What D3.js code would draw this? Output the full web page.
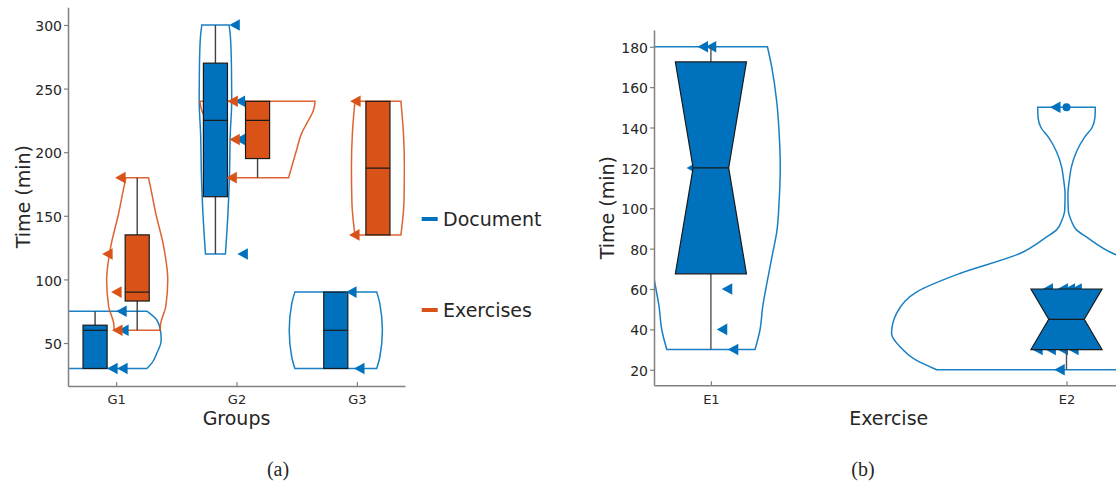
<!DOCTYPE html>
<html>
<head>
<meta charset="utf-8">
<script src="https://cdn.jsdelivr.net/npm/d3@7"></script>
<style>
  body { margin: 0; background: #fff; }
  text { font-family: "DejaVu Sans", sans-serif; fill: #262626; }
</style>
</head>
<body>
<svg id="chart" width="1116" height="485"></svg>
<script>
// ---- panel (a): time per group ----
const groupNames = ["G1", "G2", "G3"];
// [lower whisker, q1, median, q3, upper whisker]
const documentStats = [[30, 30, 60, 64, 75], [120, 165, 225, 270, 300], [30, 30, 60, 90, 90]];
const exercisesStats = [[60, 83, 90, 135, 180], [180, 195, 225, 240, 240], [135, 135, 187.5, 240, 240]];
// raw observations: [minutes, jitter]
const documentPoints = [
    [[75, 0.046], [60, 0.062], [30, -0.029], [30, 0.054]],
    [[300, -0.014], [240, 0.03], [210, 0.03], [120, 0.053]],
    [[90, -0.044], [30, 0.022]]
];
const exercisesPoints = [
    [[180, 0.037], [120, -0.071], [90, 0.004], [60, 0.012]],
    [[240, -0.03], [210, -0.014], [180, -0.039]],
    [[240, -0.01], [135, -0.019]]
];
// kernel density profiles: [minutes, half width]
const documentViolins = [
    [[30, 0.43], [34, 0.47], [42, 0.513], [52, 0.549], [58, 0.546], [68, 0.513], [75, 0.43]],
    [[120, 0.083], [152, 0.104], [180, 0.116], [214, 0.123], [240, 0.135], [267, 0.133], [290, 0.125], [300, 0.113]],
    [[30, 0.34], [39, 0.366], [60, 0.387], [81, 0.366], [90, 0.34]]
];
const exercisesViolins = [
    [[60, 0.191], [65.5, 0.195], [78.5, 0.237], [99.5, 0.254], [125.7, 0.22], [152, 0.154], [170, 0.116], [180, 0.094]],
    [[180, 0.258], [188.6, 0.284], [201.7, 0.324], [215, 0.367], [222.7, 0.409], [233, 0.464], [238, 0.476], [240, 0.478]],
    [[135, 0.191], [160, 0.216], [188, 0.22], [215, 0.212], [240, 0.191]]
];
const timeTicksA = [50, 100, 150, 200, 250, 300];

// ---- panel (b): time per exercise ----
const exerciseNames = ["E1", "E2"];
const exerciseStats = [[30, 67.5, 120, 172.5, 180], [20, 30, 45, 60, 60]];
const exerciseOutliers = [[], [150]];
const exercisePoints = [
    [[180, -0.022], [180, 0.001], [120, -0.053], [60, 0.046], [40, 0.032], [30, 0.063]],
    [[150, -0.031], [60, -0.052], [60, -0.01], [60, 0.01], [60, 0.029],
     [30, -0.081], [30, -0.044], [30, -0.01], [30, 0.02], [20, -0.019]]
];
const exerciseViolins = [
    [[30, 0.124], [39.7, 0.138], [51.6, 0.146], [61.5, 0.156], [78, 0.174], [88, 0.185], [104, 0.192],
     [120, 0.195], [137, 0.192], [153, 0.185], [170, 0.171], [180, 0.159]],
    [[20, 0.365], [25, 0.425], [31.4, 0.468], [38, 0.492], [47.9, 0.478], [58.6, 0.421], [67.7, 0.3],
     [77.6, 0.131], [85.8, 0.056], [89.3, 0.028], [94.1, 0.013], [99, 0.005], [107, 0.004],
     [114, 0.008], [120.6, 0.014], [128, 0.028], [135, 0.05], [140, 0.072], [145, 0.08], [150, 0.081]]
];
const timeTicksB = [20, 40, 60, 80, 100, 120, 140, 160, 180];

const blue = "#0072BD";
const orange = "#D95319";
const axisGray = "#808080";

const svg = d3.select("#chart");
svg.append("rect").attr("width", 1116).attr("height", 485).attr("fill", "#fff");

const xA = d3.scaleLinear().domain([0.6, 3.4]).range([68, 405]);
const yA = d3.scaleLinear().domain([16.2, 313.9]).range([386, 7.3]);
const xB = d3.scaleLinear().domain([0.84, 2.16]).range([654, 1123.4]);
const yB = d3.scaleLinear().domain([12.3, 188.3]).range([385.3, 30]);

function addClip(id, x, y) {
    svg.append("clipPath").attr("id", id)
        .append("rect")
        .attr("x", x.range()[0])
        .attr("y", y.range()[1])
        .attr("width", x.range()[1] - x.range()[0])
        .attr("height", y.range()[0] - y.range()[1]);
    return svg.append("g").attr("clip-path", `url(#${id})`);
}

function drawViolin(g, x, y, center, profile, color) {
    const area = d3.area()
        .curve(d3.curveMonotoneY)
        .y(d => y(d[0]))
        .x0(d => x(center - d[1]))
        .x1(d => x(center + d[1]));
    g.append("path")
        .attr("d", area(profile))
        .attr("fill", "none")
        .attr("stroke", color)
        .attr("stroke-opacity", 0.9)
        .attr("stroke-width", 1.5);
}

function drawPoints(g, x, y, center, points, color) {
    g.selectAll(null)
        .data(points)
        .enter()
        .append("path")
        .attr("d", "M-5.5,0L5,-5.8L5,5.8Z")
        .attr("transform", d => `translate(${x(center + d[1])},${y(d[0])})`)
        .attr("fill", color);
}

function drawWhiskers(g, x, y, center, s, color) {
    [[s[3], s[4]], [s[1], s[0]]].forEach(([a, b]) => {
        if (a === b) return;
        g.append("line")
            .attr("x1", x(center)).attr("x2", x(center))
            .attr("y1", y(a)).attr("y2", y(b))
            .attr("stroke", color)
            .attr("stroke-width", 1.4);
    });
}

function drawBox(g, x, y, center, s, color) {
    const half = 0.1;
    g.append("rect")
        .attr("x", x(center - half))
        .attr("y", y(s[3]))
        .attr("width", x(center + half) - x(center - half))
        .attr("height", y(s[1]) - y(s[3]))
        .attr("fill", color)
        .attr("stroke", "#1a1a1a")
        .attr("stroke-width", 1.2);
    g.append("line")
        .attr("x1", x(center - half)).attr("x2", x(center + half))
        .attr("y1", y(s[2])).attr("y2", y(s[2]))
        .attr("stroke", "#1a1a1a")
        .attr("stroke-width", 1.2);
}

function drawNotchedBox(g, x, y, center, s, color) {
    const half = 0.1, notch = 0.05;
    const pts = [
        [center - half, s[1]], [center + half, s[1]], [center + notch, s[2]],
        [center + half, s[3]], [center - half, s[3]], [center - notch, s[2]]
    ];
    g.append("path")
        .attr("d", d3.line().x(d => x(d[0])).y(d => y(d[1]))(pts) + "Z")
        .attr("fill", color)
        .attr("stroke", "#1a1a1a")
        .attr("stroke-width", 1.2)
        .attr("stroke-linejoin", "miter");
    g.append("line")
        .attr("x1", x(center - notch)).attr("x2", x(center + notch))
        .attr("y1", y(s[2])).attr("y2", y(s[2]))
        .attr("stroke", "#1a1a1a")
        .attr("stroke-width", 1.2);
}

function drawAxes(x, y, yTicks, xTicks, xNames, xTitle, yTitleX) {
    const gy = svg.append("g")
        .attr("transform", `translate(${x.range()[0]},0)`)
        .call(d3.axisLeft(y).tickValues(yTicks).tickSizeOuter(0).tickSizeInner(4).tickPadding(2));
    gy.selectAll("text").attr("font-size", 14).attr("dy", "0.4em").style("font-family", "DejaVu Sans");

    const gx = svg.append("g")
        .attr("transform", `translate(0,${y.range()[0]})`)
        .call(d3.axisBottom(x).tickValues(xTicks).tickFormat((d, i) => xNames[i])
            .tickSizeOuter(0).tickSizeInner(-4).tickPadding(9));
    gx.selectAll("text").attr("font-size", 13).style("font-family", "DejaVu Sans");

    [gx, gy].forEach(ax => {
        ax.select(".domain").attr("stroke", axisGray).attr("stroke-width", 1.5);
        ax.selectAll(".tick line").attr("stroke", axisGray).attr("stroke-width", 1.2);
        ax.selectAll(".tick text").attr("fill", "#262626");
    });

    svg.append("text")
        .attr("x", (x.range()[0] + x.range()[1]) / 2)
        .attr("y", 425)
        .attr("text-anchor", "middle")
        .attr("font-size", 19)
        .text(xTitle);

    const midY = (y.range()[0] + y.range()[1]) / 2;
    svg.append("text")
        .attr("transform", `translate(${yTitleX},${midY}) rotate(-90)`)
        .attr("text-anchor", "middle")
        .attr("font-size", 19)
        .text("Time (min)");
}

// ---- panel (a) ----
const plotA = addClip("clipA", xA, yA);
const offset = 0.175;
groupNames.forEach((name, i) => {
    drawViolin(plotA, xA, yA, i + 1 - offset, documentViolins[i], blue);
});
groupNames.forEach((name, i) => {
    drawViolin(plotA, xA, yA, i + 1 + offset, exercisesViolins[i], orange);
});
groupNames.forEach((name, i) => {
    drawWhiskers(plotA, xA, yA, i + 1 - offset, documentStats[i], "#404040");
    drawWhiskers(plotA, xA, yA, i + 1 + offset, exercisesStats[i], "#404040");
    drawBox(plotA, xA, yA, i + 1 - offset, documentStats[i], blue);
    drawBox(plotA, xA, yA, i + 1 + offset, exercisesStats[i], orange);
});
groupNames.forEach((name, i) => drawPoints(plotA, xA, yA, i + 1, documentPoints[i], blue));
groupNames.forEach((name, i) => drawPoints(plotA, xA, yA, i + 1, exercisesPoints[i], orange));

drawAxes(xA, yA, timeTicksA, [1, 2, 3], groupNames, "Groups", 29.5);

// legend
const legend = svg.append("g");
[["Document", blue, 219], ["Exercises", orange, 310]].forEach(([label, color, ly]) => {
    legend.append("line")
        .attr("x1", 421.7).attr("x2", 437.7)
        .attr("y1", ly).attr("y2", ly)
        .attr("stroke", color)
        .attr("stroke-width", 4);
    legend.append("text")
        .attr("x", 443)
        .attr("y", ly + 7)
        .attr("font-size", 19)
        .attr("fill", "#111")
        .text(label);
});

// ---- panel (b) ----
const plotB = addClip("clipB", xB, yB);
exerciseNames.forEach((name, i) => drawViolin(plotB, xB, yB, i + 1, exerciseViolins[i], blue));
exerciseNames.forEach((name, i) => drawPoints(plotB, xB, yB, i + 1, exercisePoints[i], blue));
exerciseNames.forEach((name, i) => {
    drawWhiskers(plotB, xB, yB, i + 1, exerciseStats[i], "#505050");
    drawNotchedBox(plotB, xB, yB, i + 1, exerciseStats[i], blue);
    plotB.selectAll(null)
        .data(exerciseOutliers[i])
        .enter()
        .append("circle")
        .attr("cx", xB(i + 1))
        .attr("cy", d => yB(d))
        .attr("r", 4)
        .attr("fill", blue);
});

drawAxes(xB, yB, timeTicksB, [1, 2], exerciseNames, "Exercise", 614);

// captions
[["(a)", 278], ["(b)", 863]].forEach(([label, cx]) => {
    svg.append("text")
        .attr("x", cx)
        .attr("y", 476)
        .attr("text-anchor", "middle")
        .attr("font-size", 20)
        .style("font-family", "'Liberation Serif', serif")
        .attr("fill", "#111")
        .text(label);
});
</script>
</body>
</html>
